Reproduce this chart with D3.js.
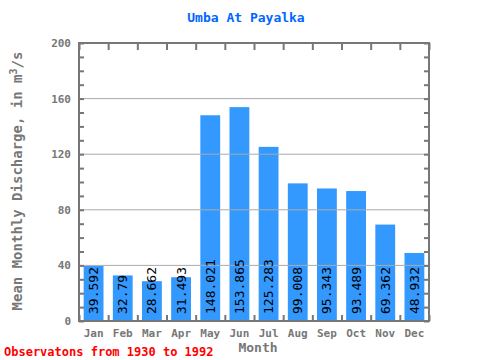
<!DOCTYPE html>
<html><head><meta charset="utf-8">
<script src="https://cdn.jsdelivr.net/npm/d3@7"></script>
<style>body{margin:0;background:#fff}</style>
</head><body>
<script>
const months = ["Jan","Feb","Mar","Apr","May","Jun","Jul","Aug","Sep","Oct","Nov","Dec"];
const discharge = [39.592,32.79,28.662,31.493,148.021,153.865,125.283,99.008,95.343,93.489,69.362,48.932];
const labels = ["39.592","32.79","28.662","31.493","148.021","153.865","125.283","99.008","95.343","93.489","69.362","48.932"];
const yTicks = [0,40,80,120,160,200];

const W=480,H=360, L=79,R=429,T=43,B=321;
const svg=d3.select("body").append("svg").attr("width",W).attr("height",H);
const x=d3.scaleBand().domain(months).range([L,R]).paddingInner(0.32).paddingOuter(0.16);
const xb=d3.scaleBand().domain(months).range([L,R]);
const y=d3.scaleLinear().domain([0,200]).range([B,T]);
const axisCol="#777", font="'DejaVu Sans Mono', monospace";

svg.append("text").attr("x",246).attr("y",22).attr("text-anchor","middle")
  .attr("fill","#0066ff").attr("font-family",font).attr("font-weight","bold").attr("font-size",13)
  .text("Umba At Payalka");

svg.selectAll("rect.bar").data(discharge).join("rect").attr("class","bar")
  .attr("x",(d,i)=>x(months[i])).attr("width",x.bandwidth())
  .attr("y",d=>y(d)).attr("height",d=>B-y(d)).attr("fill","#3399ff");

// gridlines over bars
svg.selectAll("line.grid").data(yTicks.filter(v=>v>0&&v<200)).join("line").attr("class","grid")
  .attr("x1",L).attr("x2",R).attr("y1",d=>y(d)).attr("y2",d=>y(d))
  .attr("stroke","#aaa").attr("stroke-width",1);

svg.selectAll("text.val").data(discharge).join("text").attr("class","val")
  .attr("transform",(d,i)=>`translate(${x(months[i])+x.bandwidth()/2+4.5},${B-7}) rotate(-90)`)
  .attr("font-family",font).attr("font-size",13).attr("fill","#000")
  .text((d,i)=>labels[i]);

// axes
const minor=d3.range(0,201,10);
const yl=d3.axisRight(y).tickValues(minor).tickSize(5).tickFormat("");
svg.append("g").attr("transform",`translate(${L},0)`).call(yl);
const yr=d3.axisLeft(y).tickValues(minor).tickSize(5).tickFormat("");
svg.append("g").attr("transform",`translate(${R},0)`).call(yr);
const bnd=months.map(m=>xb(m)).concat([R]);
const xtop=d3.axisBottom(d3.scaleLinear().domain([L,R]).range([L,R])).tickValues(bnd).tickSize(7).tickFormat("");
svg.append("g").attr("transform",`translate(0,${T})`).call(xtop);
const xbot=d3.axisTop(d3.scaleLinear().domain([L,R]).range([L,R])).tickValues(bnd).tickSize(6).tickFormat("");
svg.append("g").attr("transform",`translate(0,${B})`).call(xbot);
svg.selectAll(".domain").remove();
svg.selectAll(".tick line").attr("stroke",axisCol).attr("stroke-width",2);
svg.append("rect").attr("x",L).attr("y",T).attr("width",R-L).attr("height",B-T)
  .attr("fill","none").attr("stroke",axisCol).attr("stroke-width",2);

// y labels
svg.selectAll("text.yl").data(yTicks).join("text").attr("class","yl")
  .attr("x",71).attr("y",d=>y(d)+4).attr("text-anchor","end")
  .attr("font-family",font).attr("font-weight","bold").attr("font-size",11).attr("fill",axisCol)
  .text(d=>d);
// x labels
svg.selectAll("text.xl").data(months).join("text").attr("class","xl")
  .attr("x",m=>xb(m)+xb.bandwidth()/2).attr("y",337).attr("text-anchor","middle")
  .attr("font-family",font).attr("font-weight","bold").attr("font-size",11).attr("fill",axisCol)
  .text(m=>m);

svg.append("text").attr("x",258).attr("y",352).attr("text-anchor","middle")
  .attr("font-family",font).attr("font-weight","bold").attr("font-size",13).attr("fill",axisCol)
  .text("Month");

const yt=svg.append("text").attr("transform","translate(22,181) rotate(-90)").attr("text-anchor","middle")
  .attr("font-family",font).attr("font-weight","bold").attr("font-size",14).attr("fill",axisCol);
yt.append("tspan").text("Mean Monthly Discharge, in  m");
yt.append("tspan").attr("dy",-5).attr("font-size",10).text("3");
yt.append("tspan").attr("dy",5).text("/s");

svg.append("text").attr("x",4).attr("y",356)
  .attr("font-family",font).attr("font-weight","bold").attr("font-size",12).attr("fill","#ff0000")
  .text("Observatons from 1930 to 1992");
</script>
</body></html>
